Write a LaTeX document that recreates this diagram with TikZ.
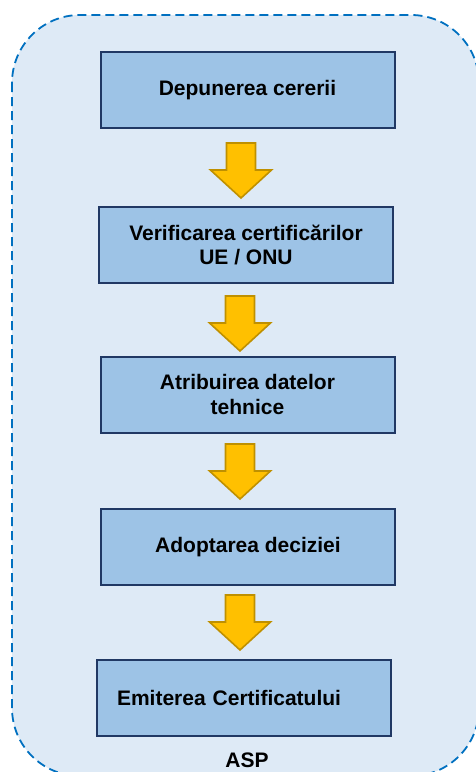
\documentclass[tikz,border=0pt]{standalone}
\usepackage{fontspec}
\setmainfont{Liberation Sans}
\definecolor{contfill}{HTML}{DEEAF6}
\definecolor{contline}{HTML}{0070C0}
\definecolor{boxfill}{HTML}{9DC3E6}
\definecolor{boxline}{HTML}{203864}
\definecolor{arrfill}{HTML}{FFC000}
\definecolor{arrline}{HTML}{BF9000}
\tikzset{
  x=1pt, y=-1pt,
  stepfont/.style={font=\bfseries\fontsize{21}{24.5}\selectfont},
  stepbox/.style={draw=boxline, line width=2pt, fill=boxfill, minimum width=294pt, minimum height=76pt,
    align=center, stepfont, inner sep=0pt},
  container/.style={draw=contline, line width=1.8pt, fill=contfill, dash pattern=on 9pt off 5pt, rounded corners=68pt},
  downarr/.pic={\draw[draw=arrline, fill=arrfill, line width=1.6pt, line join=miter]
      (-14.5,0) -- (14.5,0) -- (14.5,27) -- (30.5,27) -- (0,55) -- (-30.5,27) -- (-14.5,27) -- cycle;}
}
\begin{document}
\begin{tikzpicture}
\useasboundingbox (0,0) rectangle (475,772);
\draw[container] (12,15) rectangle (479,776);
\node[stepbox] (b1) at (247.5,90) {Depunerea cererii};
\node[stepbox] (b2) at (246,245) {Verificarea certificărilor\\UE / ONU};
\node[stepbox] (b3) at (247.5,394.5) {Atribuirea datelor\\tehnice};
\node[stepbox] (b4) at (248,547) {Adoptarea deciziei};
\node[stepbox, text width=282pt, align=left] (b5) at (244,698) {\hspace{14pt}Emiterea Certificatului};
\node[stepfont, anchor=base] (asp) at (247,767) {ASP};
\pic at (241,143) {downarr};
\pic at (240,296) {downarr};
\pic at (240,444) {downarr};
\pic at (240,595) {downarr};
\end{tikzpicture}
\end{document}
